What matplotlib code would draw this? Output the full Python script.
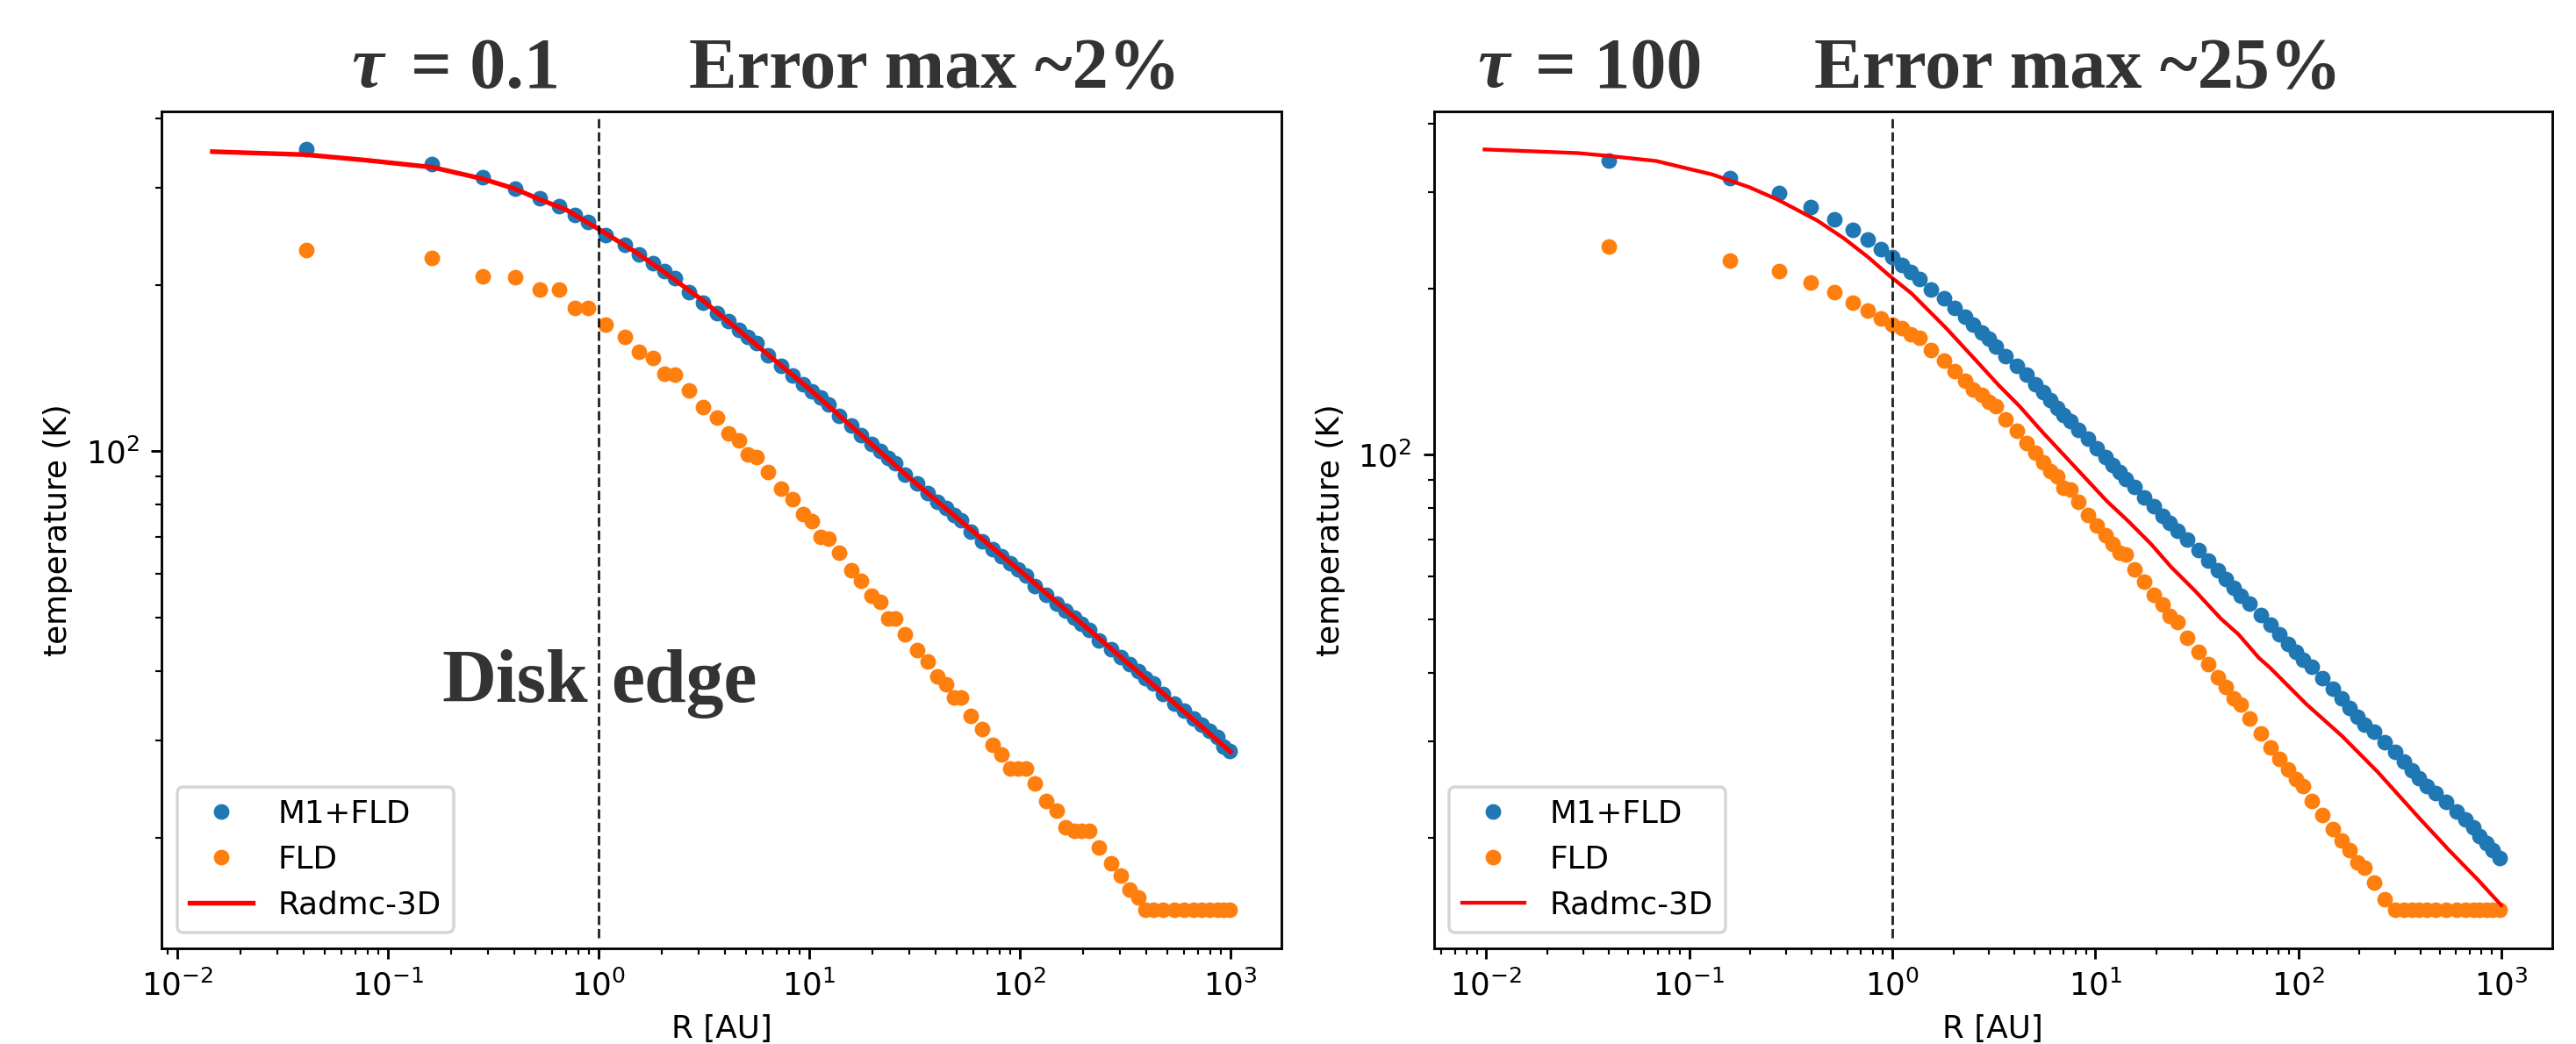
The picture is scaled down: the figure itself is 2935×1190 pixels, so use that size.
import matplotlib
matplotlib.use("Agg")
import matplotlib.pyplot as plt

# ---------------- data: tau = 0.1 (left panel) ----------------
R_left = [0.041, 0.162, 0.283, 0.404, 0.527, 0.650, 0.770, 0.896,
          1.08, 1.33, 1.56, 1.81, 2.06, 2.30,
          2.68, 3.14, 3.66, 4.14, 4.64, 5.11, 5.61,
          6.36, 7.34, 8.35, 9.35, 10.3, 11.3, 12.3,
          13.8, 15.8, 17.7, 19.7, 21.7, 23.7, 25.7,
          28.6, 32.6, 36.6, 40.5, 44.6, 48.6, 52.8,
          58.3, 66.3, 74.0, 81.7, 90.1, 97.9, 106.6,
          118, 134, 150, 165, 181, 195, 213,
          238, 270, 302, 333, 364, 395, 429,
          478, 540, 603, 668, 730, 795, 862, 930, 993]

M1FLD_left = [351.6, 331, 313, 299, 287.4, 277.3, 268, 260.3,
              246, 236, 227, 218.6, 211.8, 205.4,
              194.1, 185.8, 178.0, 171.7, 166.1, 160.9, 156.7,
              149.2, 142.9, 137.3, 132.4, 128.6, 125.0, 121.4,
              115.8, 111.4, 107.1, 103.1, 100.2, 97.3, 95.0,
              90.6, 87.4, 84.0, 81.1, 79.0, 76.8, 74.9,
              71.5, 68.7, 66.5, 64.5, 62.8, 61.2, 59.6,
              57.1, 54.9, 53.0, 51.4, 50.0, 48.7, 47.5,
              45.5, 43.9, 42.4, 41.2, 40.0, 38.8, 38.0,
              36.4, 35.0, 33.9, 32.9, 32.0, 31.2, 30.4, 29.2, 28.7]

FLD_left = [231.6, 223.7, 206.9, 206.6, 195.9, 195.9, 181.5, 181.5,
            169.5, 161.3, 151.5, 147.4, 138.0, 137.6,
            128.7, 120.1, 114.9, 107.7, 104.8, 98.8, 97.5,
            91.6, 85.5, 81.9, 76.9, 74.8, 70.1, 69.6,
            65.5, 60.9, 58.4, 54.8, 53.4, 49.9, 49.9,
            46.7, 43.6, 41.6, 39.1, 37.9, 35.8, 35.8,
            33.2, 31.4, 29.4, 28.3, 26.7, 26.7, 26.7,
            25.1, 23.3, 22.4, 20.9, 20.6, 20.6, 20.6,
            19.2, 18.0, 17.1, 16.1, 15.56, 14.79, 14.79,
            14.79, 14.79, 14.79, 14.79, 14.79, 14.79, 14.79, 14.79, 14.79]

R_radmc_left = [0.0147, 0.0409, 0.08, 0.1625, 0.283, 0.4, 0.527, 0.7, 1.0,
                1.5, 2.0, 3.13, 10, 30, 100, 300, 1000]
T_radmc_left = [348.4, 344, 336, 326.5, 311, 298.5, 285.4, 273.7, 252.4,
                229.3, 212.4, 187.4, 129.7, 89.4, 60.8, 42.5, 28.6]

# ---------------- data: tau = 100 (right panel) ----------------
R_right = [0.040, 0.159, 0.278, 0.398, 0.518, 0.640, 0.758, 0.878,
           1.00, 1.12, 1.235, 1.36,
           1.55, 1.80, 2.03, 2.28, 2.51, 2.76, 2.99,
           3.25, 3.63, 4.10, 4.59, 5.08, 5.56, 6.03, 6.53, 7.00, 7.53,
           8.23, 9.23, 10.2, 11.2, 12.15, 13.13, 14.18,
           15.63, 17.5, 19.5, 21.4, 23.3, 25.4,
           28.4, 32.2, 36.1, 40.1, 44.1, 48.1, 51.9,
           57.7, 65.4, 73.3, 81.1, 89.4, 97.8, 105.2,
           116.4, 132, 148.5, 164.3, 179.6, 195.6, 211.3,
           236.7, 267.3, 299.5, 331.5, 362.4, 393, 429.8,
           475.6, 537, 601.7, 665.9, 731, 783, 849.5, 910, 979]

M1FLD_right = [343.2, 318.4, 299, 282.3, 268.2, 256.4, 245.9, 236.8,
               228.7, 221.3, 214.7, 208.9,
               199.8, 192.1, 184.8, 177.9, 172.4, 166.8, 162.2,
               156.9, 151.1, 144.9, 139.6, 134.4, 129.7, 125.6, 121.5, 117.9, 115.0,
               111.0, 106.8, 102.7, 99.0, 95.8, 92.8, 90.1,
               87.2, 83.6, 80.4, 77.4, 74.9, 72.5,
               70.0, 66.9, 64.1, 61.6, 59.3, 57.2, 55.3,
               53.5, 51.0, 48.9, 47.0, 45.2, 43.7, 42.3,
               41.0, 39.1, 37.4, 35.9, 34.5, 33.3, 32.2,
               31.3, 29.9, 28.7, 27.6, 26.6, 25.7, 24.9,
               24.2, 23.3, 22.4, 21.6, 20.9, 20.2, 19.6, 19.0, 18.4]

FLD_right = [239.3, 225.6, 215.4, 205.3, 197.1, 189.2, 182.5, 176.6,
             172.4, 169.8, 165.5, 162.8,
             155.1, 147.9, 141.8, 136.1, 131.1, 128.2, 124.6,
             122.4, 115.8, 110.2, 104.9, 100.7, 96.7, 93.1, 91.3, 87.0, 86.2,
             81.8, 77.6, 74.3, 71.3, 68.6, 66.3, 65.6,
             61.8, 58.6, 55.4, 53.2, 50.8, 49.5,
             46.4, 43.7, 41.5, 39.2, 37.7, 36.0, 35.0,
             33.0, 31.0, 29.3, 27.9, 26.7, 25.6, 24.9,
             23.4, 22.0, 20.8, 19.8, 19.0, 18.1, 17.7,
             16.6, 15.5, 14.8, 14.8, 14.8, 14.8, 14.8,
             14.8, 14.8, 14.8, 14.8, 14.8, 14.8, 14.8, 14.8, 14.8]

R_radmc_right = [0.0098, 0.0282, 0.040, 0.0688, 0.1303, 0.197, 0.273, 0.4266,
                 0.580, 0.756, 0.970, 1.243, 1.516, 1.850, 2.257, 2.754, 3.358,
                 4.233, 5.518, 7.19, 9.07, 11.44, 14.42, 18.8, 23.7, 30.9, 41.6,
                 50.8, 64.0, 72.97, 109.5, 164.3, 246.4, 392.9, 554.6, 767.6, 1000]
T_radmc_right = [359.1, 353.7, 349.5, 342.1, 323.2, 306.6, 290.9, 266.6,
                 247.1, 229.0, 211.4, 196.4, 182.5, 169.5, 156.5, 144.5, 133.4,
                 122.4, 109.6, 98.7, 90.0, 82.1, 75.8, 68.7, 62.3, 56.5, 50.2,
                 47.0, 42.6, 40.8, 35.1, 30.7, 26.4, 21.8, 19.0, 16.8, 15.1]

labels = ["M1+FLD", "FLD", "Radmc-3D"]
titles_tau = ["= 0.1", "= 100"]
titles_err = ["Error max ~2%", "Error max ~25%"]
edge_words = ["Disk", "edge"]

# ---------------- figure ----------------
W, H, DPI = 2935, 1190, 257
fig = plt.figure(figsize=(W / DPI, H / DPI), dpi=DPI)

bottom = 1 - 1080.6 / H
height = 953.6 / H
ax1 = fig.add_axes([184 / W, bottom, 1276 / W, height])
ax2 = fig.add_axes([1633.5 / W, bottom, 1274.2 / W, height])

panels = [
    (ax1, R_left, M1FLD_left, FLD_left, R_radmc_left, T_radmc_left, 1.5),
    (ax2, R_right, M1FLD_right, FLD_right, R_radmc_right, T_radmc_right, 1.2),
]

for ax, R, tb, to, rr, tr, lw in panels:
    ax.plot(R, tb, 'o', color='#1f77b4', ms=4, label=labels[0])
    ax.plot(R, to, 'o', color='#ff7f0e', ms=4, label=labels[1])
    ax.plot(rr, tr, '-', color='red', lw=lw, label=labels[2])
    ax.set_xscale('log')
    ax.set_yscale('log')
    ax.axvline(1.0, ymin=0.012, ymax=0.995, color='k', ls='--', lw=0.8, alpha=0.85)
    ax.set_xlabel("R [AU]")
    ax.set_ylabel("temperature (K)")
    ax.legend(loc='lower left')

serif = ['Liberation Serif', 'DejaVu Serif']
tcol = '#333333'
fs = 23
ybase = 1 - 99.5 / H
# left titles
fig.text(400 / W, ybase, "τ", fontsize=fs, fontweight='bold', fontstyle='italic',
         family=serif, color=tcol, va='baseline')
fig.text(468 / W, ybase, titles_tau[0], fontsize=fs, fontweight='bold',
         family=serif, color=tcol, va='baseline')
fig.text(785 / W, ybase, titles_err[0], fontsize=fs, fontweight='bold',
         family=serif, color=tcol, va='baseline')
# right titles
fig.text(1683 / W, ybase, "τ", fontsize=fs, fontweight='bold', fontstyle='italic',
         family=serif, color=tcol, va='baseline')
fig.text(1749 / W, ybase, titles_tau[1], fontsize=fs, fontweight='bold',
         family=serif, color=tcol, va='baseline')
fig.text(2067 / W, ybase, titles_err[1], fontsize=fs, fontweight='bold',
         family=serif, color=tcol, va='baseline')

# Disk edge annotation (two words either side of the dashed line)
fig.text(503 / W, 1 - 800 / H, edge_words[0], fontsize=24, fontweight='bold',
         family=serif, color=tcol, va='baseline')
fig.text(696 / W, 1 - 800 / H, edge_words[1], fontsize=24, fontweight='bold',
         family=serif, color=tcol, va='baseline')

fig.savefig("out.png", dpi=DPI)
